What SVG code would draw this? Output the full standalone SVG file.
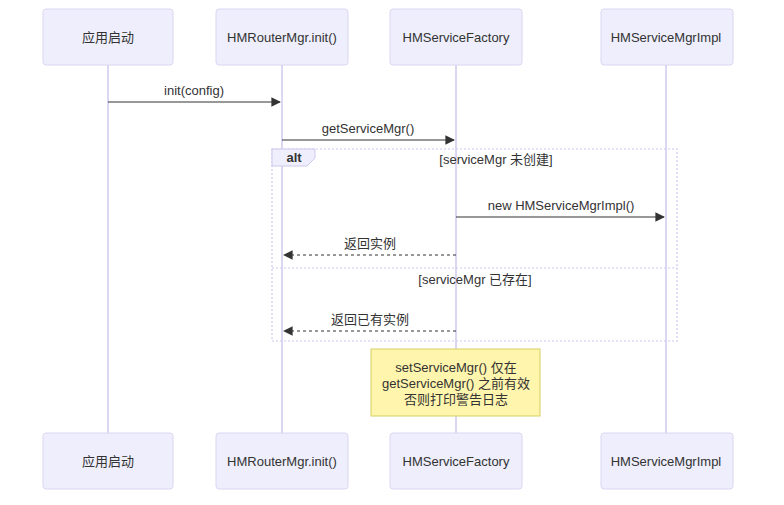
<svg xmlns="http://www.w3.org/2000/svg" width="784" height="505" viewBox="0 0 784 505">
<style>
.actor{fill:#eeeefc;stroke:#dcd6f2;stroke-width:1}
.life{stroke:#ddd6f3;stroke-width:2}
.t{font-family:"Liberation Sans","Noto Sans CJK SC",sans-serif;font-size:13px;fill:#333;text-anchor:middle}
.msg{stroke:#333;stroke-width:1.2;fill:none}
.dash{stroke-dasharray:3,3}
.frame{stroke:#cfc8ee;stroke-width:1.2;fill:none;stroke-dasharray:2,2}
</style>
<defs><marker id="ah" viewBox="0 0 10 10" refX="9" refY="5" markerWidth="8" markerHeight="8" orient="auto"><path d="M0,0L10,5L0,10z" fill="#333"/></marker></defs>
<rect width="784" height="505" fill="#fff"/>
<g id="lifelines">
<line class="life" x1="108" y1="65" x2="108" y2="433"/>
<line class="life" x1="282" y1="65" x2="282" y2="433"/>
<line class="life" x1="456" y1="65" x2="456" y2="433"/>
<line class="life" x1="666" y1="65" x2="666" y2="433"/>
</g>
<g id="a1"><rect class="actor" x="43" y="9" width="130" height="56" rx="3"/><text class="t" x="108" y="42">应用启动</text>
<rect class="actor" x="43" y="433" width="130" height="56" rx="3"/><text class="t" x="108" y="466">应用启动</text></g>
<g id="a2"><rect class="actor" x="216" y="9" width="132" height="56" rx="3"/><text class="t" x="282" y="42">HMRouterMgr.init()</text>
<rect class="actor" x="216" y="433" width="132" height="56" rx="3"/><text class="t" x="282" y="466">HMRouterMgr.init()</text></g>
<g id="a3"><rect class="actor" x="390" y="9" width="132" height="56" rx="3"/><text class="t" x="456" y="42">HMServiceFactory</text>
<rect class="actor" x="390" y="433" width="132" height="56" rx="3"/><text class="t" x="456" y="466">HMServiceFactory</text></g>
<g id="a4"><rect class="actor" x="601" y="9" width="132" height="56" rx="3"/><text class="t" x="666" y="42">HMServiceMgrImpl</text>
<rect class="actor" x="601" y="433" width="132" height="56" rx="3"/><text class="t" x="666" y="466">HMServiceMgrImpl</text></g>
<g id="alt">
<rect class="frame" x="272" y="149" width="405" height="192"/>
<path d="M272,149H315V158L307,166H272z" fill="#eeeefc" stroke="#cfc8ee"/>
<text class="t" x="294" y="162" style="font-weight:bold">alt</text>
<text class="t" x="496" y="164">[serviceMgr 未创建]</text>
<line class="frame" x1="272" y1="268" x2="677" y2="268"/>
<text class="t" x="475" y="284">[serviceMgr 已存在]</text>
</g>
<g id="connectors">
<line class="msg" x1="108" y1="102" x2="280" y2="102" marker-end="url(#ah)"/>
<text class="t" x="194" y="95">init(config)</text>
<line class="msg" x1="282" y1="140" x2="454" y2="140" marker-end="url(#ah)"/>
<text class="t" x="368" y="133">getServiceMgr()</text>
<line class="msg" x1="456" y1="217" x2="664" y2="217" marker-end="url(#ah)"/>
<text class="t" x="561" y="210">new HMServiceMgrImpl()</text>
<line class="msg dash" x1="456" y1="255" x2="284" y2="255" marker-end="url(#ah)"/>
<text class="t" x="370" y="248">返回实例</text>
<line class="msg dash" x1="456" y1="331" x2="284" y2="331" marker-end="url(#ah)"/>
<text class="t" x="370" y="324">返回已有实例</text>
</g>
<g id="note">
<rect x="371" y="349" width="169" height="67" fill="#fff5ad" stroke="#d6cf62"/>
<text class="t" x="456" y="372">setServiceMgr() 仅在</text>
<text class="t" x="456" y="388">getServiceMgr() 之前有效</text>
<text class="t" x="456" y="404">否则打印警告日志</text>
</g>
</svg>
